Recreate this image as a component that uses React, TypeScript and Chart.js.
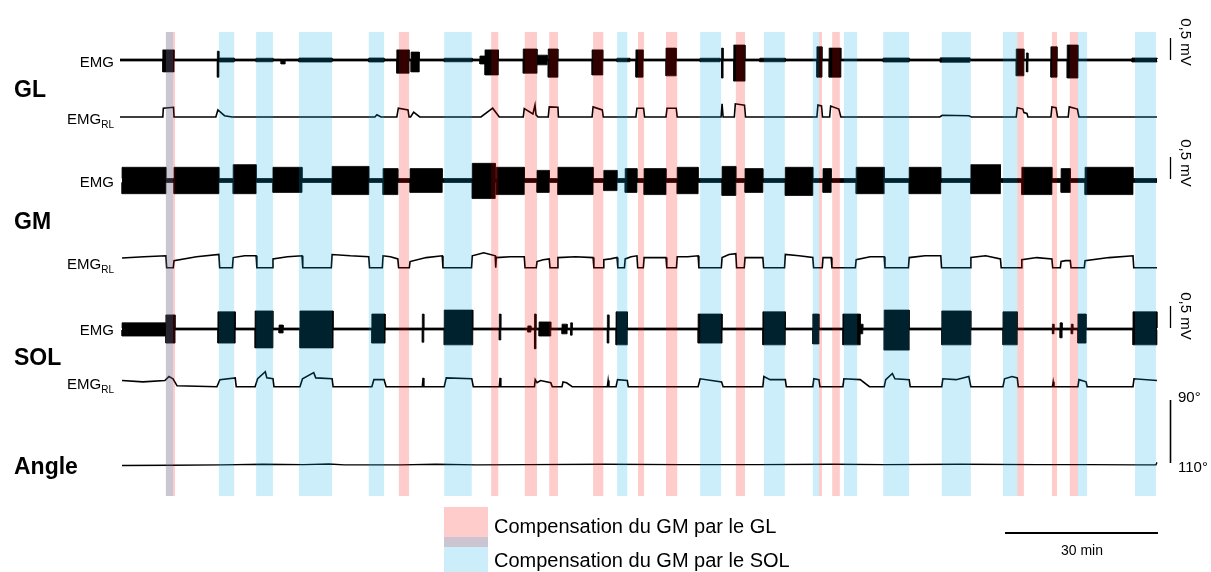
import React, { useEffect, useRef } from "react";
import { Chart, registerables } from "chart.js";

Chart.register(...registerables);

type Span = [number, number];
type Burst = [number, number, number, number]; // start min, end min, up mV, down mV
type Pt = [number, number];
type Seg = [number, number, number, number, number]; // start, end, level start, level mid, level end (mV)

// ---------- DATA (time in minutes) ----------
const pinkBands: Span[] = [
  [9.0, 10.8], [54.7, 56.7], [72.8, 74.2], [79.4, 81.8], [84.2, 85.9], [92.8, 94.8],
  [101.6, 102.8], [107.1, 109.3], [120.8, 122.6], [137.1, 137.7], [139.7, 141.2],
  [176.0, 177.3], [182.8, 183.8], [186.3, 187.9],
];
const blueBands: Span[] = [
  [9.0, 10.4], [19.4, 22.4], [26.7, 30.0], [35.1, 41.6], [48.8, 51.8], [63.6, 69.0],
  [97.5, 99.5], [113.8, 117.9], [126.3, 130.4], [135.9, 137.1], [142.0, 144.6],
  [149.7, 154.8], [161.2, 166.9], [173.2, 176.0], [187.9, 189.7], [199.1, 203.2],
];

const glBursts: Burst[] = [
  [8.4, 10.6, 0.23, 0.27], [19.1, 19.4, 0.2, 0.39], [19.4, 22.4, 0.045, 0.045],
  [26.7, 30.0, 0.04, 0.04], [31.6, 32.4, 0.02, 0.09], [35.1, 41.6, 0.045, 0.045],
  [48.8, 51.8, 0.045, 0.045], [54.3, 56.7, 0.23, 0.3], [57.1, 58.7, 0.18, 0.27],
  [63.6, 69.1, 0.04, 0.04], [70.6, 71.6, 0.09, 0.09], [71.6, 74.2, 0.23, 0.34],
  [79.1, 81.8, 0.25, 0.3], [81.8, 83.8, 0.11, 0.11], [84.0, 85.9, 0.25, 0.39],
  [92.6, 94.7, 0.23, 0.34], [97.5, 100.0, 0.04, 0.04], [101.2, 102.6, 0.23, 0.39],
  [107.1, 109.1, 0.27, 0.36], [113.8, 117.7, 0.04, 0.04], [118.0, 118.3, 0.27, 0.41],
  [120.4, 122.6, 0.34, 0.48], [125.5, 130.5, 0.04, 0.04], [136.7, 137.7, 0.3, 0.39],
  [139.1, 141.4, 0.27, 0.39], [149.7, 154.8, 0.045, 0.045], [160.9, 166.7, 0.05, 0.05],
  [175.8, 177.3, 0.25, 0.36], [177.8, 178.1, 0.16, 0.27], [182.6, 183.8, 0.3, 0.39],
  [185.8, 187.9, 0.34, 0.41], [198.5, 203.4, 0.045, 0.045],
];

const gmBursts: Burst[] = [
  [0.4, 9.0, 0.3, 0.3], [10.6, 19.4, 0.3, 0.3], [22.2, 26.7, 0.36, 0.3],
  [30.0, 35.7, 0.3, 0.27], [41.6, 48.8, 0.32, 0.32], [51.6, 54.5, 0.27, 0.32],
  [56.9, 63.2, 0.27, 0.27], [69.1, 73.6, 0.39, 0.41], [73.8, 79.3, 0.3, 0.32],
  [81.8, 84.2, 0.23, 0.27], [85.9, 92.8, 0.3, 0.32], [94.9, 97.5, 0.23, 0.23],
  [99.1, 101.4, 0.27, 0.27], [102.8, 107.1, 0.27, 0.32], [109.3, 113.4, 0.3, 0.3],
  [118.1, 120.8, 0.32, 0.34], [122.6, 126.1, 0.27, 0.27], [130.5, 135.9, 0.3, 0.34],
  [137.9, 139.5, 0.27, 0.27], [144.4, 149.9, 0.3, 0.3], [154.8, 161.0, 0.3, 0.3],
  [166.9, 172.7, 0.36, 0.3], [176.9, 182.8, 0.3, 0.32], [184.6, 186.4, 0.27, 0.27],
  [189.3, 198.7, 0.3, 0.32],
];

const solBursts: Burst[] = [
  [0.4, 9.0, 0.14, 0.16], [9.0, 10.8, 0.32, 0.32], [19.2, 22.6, 0.39, 0.32],
  [26.5, 30.0, 0.41, 0.43], [31.2, 32.0, 0.09, 0.09], [35.3, 41.8, 0.41, 0.43],
  [49.4, 52.0, 0.34, 0.32], [59.3, 59.6, 0.34, 0.3], [63.6, 69.2, 0.43, 0.36],
  [74.4, 74.7, 0.34, 0.25], [80.0, 80.6, 0.07, 0.07], [81.3, 81.6, 0.34, 0.45],
  [82.2, 84.5, 0.16, 0.16], [86.7, 87.7, 0.11, 0.11], [88.4, 88.7, 0.14, 0.14],
  [95.6, 95.9, 0.32, 0.32], [97.3, 99.5, 0.39, 0.36], [113.4, 118.1, 0.34, 0.32],
  [126.1, 130.5, 0.39, 0.36], [135.9, 137.1, 0.34, 0.34], [141.8, 145.2, 0.34, 0.36],
  [145.2, 145.7, 0.11, 0.11], [149.9, 154.8, 0.43, 0.48], [161.2, 166.9, 0.41, 0.36],
  [173.2, 176.0, 0.39, 0.36], [182.9, 183.2, 0.11, 0.11], [184.4, 184.8, 0.14, 0.2],
  [186.6, 186.9, 0.11, 0.11], [187.9, 189.5, 0.34, 0.32], [198.7, 203.4, 0.39, 0.36],
];

const glRl: Pt[] = [
  [0, 0], [8.4, 0], [8.5, 0.2], [10.5, 0.22], [10.6, 0], [18.8, 0], [19.2, 0.16], [20.5, 0.03],
  [22, 0], [50.0, 0], [50.4, 0.05], [51.2, 0], [54.3, 0], [54.6, 0.2], [56.5, 0.16], [56.7, 0],
  [57.0, 0], [57.6, 0.11], [58.8, 0], [70.8, 0], [73.1, 0.2], [74.4, 0], [79.1, 0], [79.3, 0.19],
  [81.0, 0.07], [81.4, 0.27], [81.6, 0.05], [82.0, 0], [84.0, 0], [84.2, 0.23], [85.9, 0.22],
  [86.0, 0], [92.6, 0], [92.8, 0.23], [94.6, 0.16], [94.8, 0], [101.2, 0], [101.4, 0.2],
  [102.7, 0.2], [102.9, 0], [107.1, 0], [107.3, 0.2], [109.1, 0.2], [109.3, 0], [117.9, 0],
  [118.1, 0.3], [118.3, 0], [120.5, 0], [120.7, 0.3], [122.5, 0.27], [122.7, 0], [136.7, 0],
  [136.9, 0.27], [137.6, 0.25], [137.8, 0], [139.2, 0], [139.4, 0.25], [141.0, 0.18], [141.4, 0],
  [160.8, 0], [161.3, 0.04], [166.5, 0.03], [167, 0], [175.8, 0], [176.0, 0.21], [177.1, 0.18],
  [177.3, 0.1], [177.9, 0.08], [178.1, 0], [182.6, 0], [182.8, 0.23], [183.6, 0.21], [183.9, 0],
  [186.0, 0], [186.2, 0.23], [187.8, 0.18], [188.1, 0], [203.4, 0],
];

const gmRlSegments: Seg[] = [
  [0.4, 9.0, 0.22, 0.25, 0.27], [10.6, 19.4, 0.16, 0.25, 0.3], [22.2, 26.7, 0.23, 0.27, 0.27],
  [30.0, 35.7, 0.2, 0.25, 0.27], [41.6, 48.8, 0.3, 0.27, 0.25], [51.6, 54.5, 0.27, 0.25, 0.2],
  [56.9, 63.2, 0.14, 0.23, 0.27], [69.1, 73.6, 0.27, 0.34, 0.27], [73.8, 79.3, 0.23, 0.25, 0.25],
  [81.8, 84.2, 0.14, 0.18, 0.2], [85.9, 92.8, 0.23, 0.25, 0.23], [94.9, 97.5, 0.18, 0.2, 0.23],
  [99.1, 101.4, 0.2, 0.25, 0.27], [102.8, 107.1, 0.23, 0.23, 0.23], [109.3, 113.4, 0.25, 0.25, 0.27],
  [118.1, 120.8, 0.23, 0.3, 0.32], [122.6, 126.1, 0.23, 0.23, 0.23], [130.5, 135.9, 0.3, 0.27, 0.23],
  [137.9, 139.5, 0.23, 0.23, 0.23], [144.4, 149.9, 0.18, 0.25, 0.25], [154.8, 161.0, 0.23, 0.27, 0.27],
  [166.9, 172.7, 0.23, 0.27, 0.2], [176.9, 182.8, 0.18, 0.23, 0.2], [184.6, 186.4, 0.14, 0.16, 0.16],
  [189.3, 198.7, 0.16, 0.23, 0.27],
];

const solRl: Pt[] = [
  [0.4, 0.14], [4.5, 0.11], [8.8, 0.14], [9.6, 0.23], [10.4, 0.18], [11.2, 0.02], [19.0, 0],
  [19.6, 0.16], [22.6, 0.2], [22.8, 0], [26.5, 0], [27.0, 0.18], [28.5, 0.34], [28.8, 0.2],
  [30.0, 0.18], [30.2, 0], [35.3, 0], [35.8, 0.18], [38.0, 0.32], [38.4, 0.2], [41.6, 0.18],
  [41.8, 0], [49.4, 0], [49.8, 0.16], [51.8, 0.16], [52.2, 0], [59.3, 0], [59.45, 0.2],
  [59.6, 0], [63.6, 0], [64.0, 0.2], [69.0, 0.18], [69.3, 0], [74.4, 0], [74.55, 0.2], [74.7, 0],
  [81.3, 0], [81.45, 0.16], [81.8, 0.09], [82.5, 0.14], [84.5, 0.09], [84.8, 0], [86.7, 0],
  [86.9, 0.11], [87.6, 0.09], [88.7, 0], [95.6, 0], [95.75, 0.14], [95.9, 0], [97.3, 0],
  [97.6, 0.16], [99.5, 0.14], [99.7, 0], [113.4, 0], [113.8, 0.18], [118.0, 0.11], [118.3, 0],
  [126.1, 0], [126.3, 0.23], [127.5, 0.16], [130.5, 0.16], [130.7, 0], [135.9, 0], [136.1, 0.18],
  [137.1, 0.16], [137.3, 0], [141.8, 0], [142.0, 0.18], [145.2, 0.16], [147.0, 0], [149.9, 0],
  [150.2, 0.16], [151.5, 0.3], [152.0, 0.18], [154.8, 0.16], [155.0, 0], [161.2, 0], [161.4, 0.18],
  [164.0, 0.16], [166.5, 0.23], [166.9, 0], [173.2, 0], [173.5, 0.18], [175.0, 0.23], [176.0, 0.2],
  [176.2, 0], [182.9, 0], [183.05, 0.11], [183.2, 0], [187.9, 0], [188.1, 0.16], [189.5, 0.11],
  [189.7, 0], [198.7, 0], [198.9, 0.18], [203.4, 0.14],
];

const angleDeg: Pt[] = [
  [0.4, 110.8], [10, 110.7], [20, 110.6], [28, 110.4], [36, 110.5], [41, 110.3], [44, 110.6],
  [55, 110.6], [62, 110.4], [70, 110.6], [80, 110.5], [95, 110.4], [110, 110.5], [125, 110.5],
  [140, 110.4], [150, 110.5], [165, 110.4], [180, 110.5], [190, 110.5], [200, 110.6],
  [203.2, 110.6], [203.4, 109.8],
];

const baselineNoise = { gl: 0.022, gm: 0.045, sol: 0.022 }; // mV
const traceStart = { gl: 0, gm: 0.4, sol: 0.4 };
const traceEnd = 203.4;
const mvBar = 0.5; // mV
const timeBar = 30; // min
const angleRange: Span = [90, 110];

// ---------- LAYOUT ----------
const W = 1211;
const H = 572;
const PLOT_LEFT = 120;
const PLOT_RIGHT = 1160;
const X_MAX = 204;
const GAIN = 44; // px per mV
const ROW = { glEmg: 60, glRl: 117, gmEmg: 180.5, gmRl: 267.7, solEmg: 329, solRl: 386.7 };
const ANGLE_Y90 = 400;
const DEG_PX = 3.15;
const BAND_TOP = 32;
const BAND_BOTTOM = 496;
const BAR_X_MIN = (1170 - PLOT_LEFT) / ((PLOT_RIGHT - PLOT_LEFT) / X_MAX);
const MV_BAR_CENTERS = [49, 168, 317];
const TIME_BAR_START = 173.6;
const TIME_BAR_Y = 533;
const FONT = '"Liberation Sans", Arial, Helvetica, sans-serif';

const PINK = "rgba(255,0,0,0.2)";
const BLUE = "rgba(0,170,230,0.2)";

function envelope(bursts: Burst[], noise: number, start: number, y0: number, sign: number) {
  const n = y0 - sign * noise * GAIN;
  const pts: { x: number; y: number }[] = [{ x: start, y: n }];
  for (const [s, e, up, dn] of bursts) {
    const a = y0 - sign * (sign > 0 ? up : dn) * GAIN;
    pts.push({ x: s, y: n }, { x: s, y: a }, { x: e, y: a }, { x: e, y: n });
  }
  pts.push({ x: traceEnd, y: n });
  return pts;
}

function rlPoints(pts: Pt[], y0: number) {
  return pts.map(([x, v]) => ({ x, y: y0 - v * GAIN }));
}

function segPoints(segs: Seg[], start: number, y0: number) {
  const pts: Pt[] = [];
  if (segs[0][0] > start + 0.01) pts.push([start, 0]);
  for (const [s, e, a, m, b] of segs) {
    if (s > start + 0.01) pts.push([s - 0.15, 0]);
    pts.push([s, a], [(s + e) / 2, m], [e, b], [e + 0.15, 0]);
  }
  pts.push([traceEnd, 0]);
  return rlPoints(pts, y0);
}

function emgDatasets(bursts: Burst[], noise: number, start: number, y0: number) {
  const common = {
    borderColor: "#000",
    backgroundColor: "#000",
    borderWidth: 0.8,
    pointRadius: 0,
    tension: 0,
  };
  // each half is filled slightly past the baseline so the two halves overlap (no seam)
  return [
    { ...common, fill: { value: y0 + 1 }, data: envelope(bursts, noise, start, y0, 1) },
    { ...common, fill: { value: y0 - 1 }, data: envelope(bursts, noise, start, y0, -1) },
  ];
}

function lineDataset(data: { x: number; y: number }[], width = 1.6) {
  return { data, borderColor: "#000", borderWidth: width, pointRadius: 0, tension: 0, fill: false };
}

const overlayPlugin = {
  id: "overlay",
  afterDatasetsDraw(chart: any) {
    const { ctx, scales } = chart;
    const x = scales.x;
    const y = scales.y;
    const top = y.getPixelForValue(BAND_TOP);
    const bot = y.getPixelForValue(BAND_BOTTOM);
    ctx.save();
    const draw = (bands: Span[], color: string) => {
      ctx.fillStyle = color;
      for (const [s, e] of bands) {
        const x0 = x.getPixelForValue(s);
        const x1 = x.getPixelForValue(e);
        ctx.fillRect(x0, top, x1 - x0, bot - top);
      }
    };
    draw(pinkBands, PINK);
    draw(blueBands, BLUE);
    ctx.restore();
  },
  afterDraw(chart: any) {
    const { ctx, scales } = chart;
    const x = scales.x;
    const y = scales.y;
    ctx.save();
    ctx.strokeStyle = "#000";
    ctx.lineWidth = 1.3;
    const bx = Math.round(x.getPixelForValue(BAR_X_MIN)) + 0.5;
    for (const c of MV_BAR_CENTERS) {
      ctx.beginPath();
      ctx.moveTo(bx, y.getPixelForValue(c - (mvBar / 2) * GAIN));
      ctx.lineTo(bx, y.getPixelForValue(c + (mvBar / 2) * GAIN));
      ctx.stroke();
    }
    ctx.lineWidth = 1.6;
    ctx.beginPath();
    ctx.moveTo(bx, y.getPixelForValue(ANGLE_Y90 + (angleRange[0] - 90) * DEG_PX));
    ctx.lineTo(bx, y.getPixelForValue(ANGLE_Y90 + (angleRange[1] - 90) * DEG_PX));
    ctx.stroke();
    ctx.lineWidth = 2;
    ctx.beginPath();
    ctx.moveTo(x.getPixelForValue(TIME_BAR_START), y.getPixelForValue(TIME_BAR_Y));
    ctx.lineTo(x.getPixelForValue(TIME_BAR_START + timeBar), y.getPixelForValue(TIME_BAR_Y));
    ctx.stroke();
    ctx.restore();
  },
};

function Txt(props: { x: number; y: number; size: number; bold?: boolean; align?: "left" | "right" | "center"; children: any; style?: any }) {
  const { x, y, size, bold, align = "left", children, style } = props;
  const tx = align === "left" ? "0" : align === "right" ? "-100%" : "-50%";
  return (
    <div
      style={{
        position: "absolute",
        left: x,
        top: y - size * 0.5,
        fontSize: size,
        lineHeight: `${size}px`,
        fontWeight: bold ? "bold" : "normal",
        whiteSpace: "nowrap",
        transform: `translateX(${tx})`,
        color: "#000",
        ...style,
      }}
    >
      {children}
    </div>
  );
}

function RlLabel({ y }: { y: number }) {
  return (
    <Txt x={114} y={y} size={15} align="right">
      EMG<span style={{ fontSize: 10, position: "relative", top: 4 }}>RL</span>
    </Txt>
  );
}

function MvLabel({ y }: { y: number }) {
  return (
    <div
      style={{
        position: "absolute",
        left: 1186,
        top: y,
        fontSize: 15,
        lineHeight: "15px",
        whiteSpace: "nowrap",
        transform: "translate(-50%,-50%) rotate(90deg)",
      }}
    >
      0,5 mV
    </div>
  );
}

export default function App() {
  const ref = useRef<HTMLCanvasElement>(null);
  useEffect(() => {
    document.body.style.margin = "0";
    if (!ref.current) return;
    const datasets: any[] = [
      ...emgDatasets(glBursts, baselineNoise.gl, traceStart.gl, ROW.glEmg),
      lineDataset(rlPoints(glRl, ROW.glRl)),
      ...emgDatasets(gmBursts, baselineNoise.gm, traceStart.gm, ROW.gmEmg),
      lineDataset(segPoints(gmRlSegments, traceStart.gm, ROW.gmRl)),
      ...emgDatasets(solBursts, baselineNoise.sol, traceStart.sol, ROW.solEmg),
      lineDataset(rlPoints(solRl, ROW.solRl)),
      lineDataset(angleDeg.map(([t, d]) => ({ x: t, y: ANGLE_Y90 + (d - 90) * DEG_PX })), 1.4),
    ];
    const chart = new Chart(ref.current, {
      type: "line",
      data: { datasets },
      options: {
        animation: false,
        responsive: false,
        devicePixelRatio: 1,
        parsing: true,
        layout: { padding: { left: PLOT_LEFT, right: W - PLOT_RIGHT, top: 0, bottom: 0 } },
        plugins: { legend: { display: false }, tooltip: { enabled: false } },
        events: [],
        scales: {
          x: { type: "linear", min: 0, max: X_MAX, display: false },
          y: { type: "linear", min: 0, max: H, reverse: true, display: false },
        },
      } as any,
      plugins: [overlayPlugin],
    });
    return () => chart.destroy();
  }, []);

  return (
    <div style={{ position: "relative", width: W, height: H, fontFamily: FONT, overflow: "hidden", background: "#fff" }}>
      <canvas ref={ref} width={W} height={H} style={{ position: "absolute", left: 0, top: 0, width: W, height: H }} />
      <Txt x={14} y={89} size={23} bold>GL</Txt>
      <Txt x={14} y={221} size={23} bold>GM</Txt>
      <Txt x={14} y={357} size={23} bold>SOL</Txt>
      <Txt x={14} y={466} size={23} bold>Angle</Txt>

      <Txt x={114} y={61} size={15} align="right">EMG</Txt>
      <RlLabel y={118} />
      <Txt x={114} y={181} size={15} align="right">EMG</Txt>
      <RlLabel y={263} />
      <Txt x={114} y={329} size={15} align="right">EMG</Txt>
      <RlLabel y={383} />

      <MvLabel y={42} />
      <MvLabel y={163} />
      <MvLabel y={316} />
      <Txt x={1178} y={396} size={15}>90°</Txt>
      <Txt x={1178} y={466} size={15}>110°</Txt>
      <Txt x={1082} y={550} size={14} align="center">30 min</Txt>

      <div style={{ position: "absolute", left: 444, top: 507, width: 44, height: 30, background: "#ffcccc" }} />
      <div style={{ position: "absolute", left: 444, top: 537, width: 44, height: 10, background: "#ccc5d1" }} />
      <div style={{ position: "absolute", left: 444, top: 547, width: 44, height: 25, background: "#cceefa" }} />
      <Txt x={494} y={526} size={20}>Compensation du GM par le GL</Txt>
      <Txt x={494} y={560} size={20}>Compensation du GM par le SOL</Txt>
    </div>
  );
}
